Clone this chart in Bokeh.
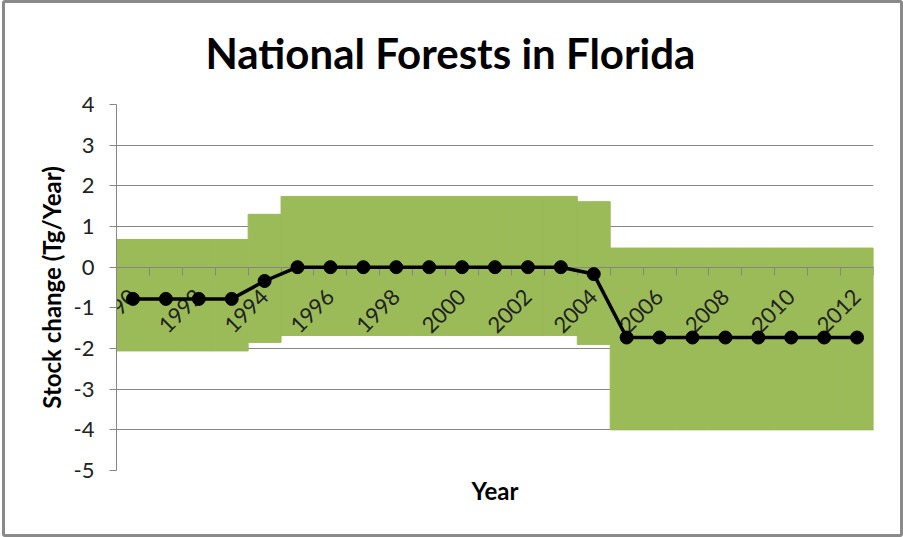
import math
from bokeh.plotting import figure
from bokeh.models import Range1d, LinearAxis, FixedTicker, ColumnDataSource, InlineStyleSheet
from bokeh.embed import file_html
from bokeh.resources import INLINE

# ---- data ----
years = list(range(1990, 2013))
stock_change = [-0.78, -0.78, -0.78, -0.78, -0.34,
                0, 0, 0, 0, 0, 0, 0, 0, 0,
                -0.17,
                -1.73, -1.73, -1.73, -1.73, -1.73, -1.73, -1.73, -1.73]
range_low = [-2.06, -2.06, -2.06, -2.06, -1.85,
             -1.68, -1.68, -1.68, -1.68, -1.68, -1.68, -1.68, -1.68, -1.68,
             -1.90,
             -4.0, -4.0, -4.0, -4.0, -4.0, -4.0, -4.0, -4.0]
range_high = [0.68, 0.68, 0.68, 0.68, 1.30,
              1.74, 1.74, 1.74, 1.74, 1.74, 1.74, 1.74, 1.74, 1.74,
              1.61,
              0.47, 0.47, 0.47, 0.47, 0.47, 0.47, 0.47, 0.47]
x_tick_years = years[::2]
x_tick_labels = [str(y) for y in x_tick_years]
y_ticks = list(range(-5, 5))
y_tick_labels = ["-5", "-4", "-3", "-2", "-1", "0", "1", "2", "3", "4"]

GRAY = "#868686"
GREEN = "#9BBB59"
FONT = "Lato"

src = ColumnDataSource(dict(year=years, val=stock_change, low=range_low, high=range_high))

p = figure(width=903, height=537,
           x_range=Range1d(years[0] - 0.5, years[-1] + 0.5),
           y_range=Range1d(-5, 4),
           x_axis_type=None,
           output_backend="svg", toolbar_location=None,
           min_border_left=116, min_border_right=30,
           min_border_top=104, min_border_bottom=67,
           background_fill_color="white", border_fill_color="white")
p.outline_line_color = None

# outer chart border, drawn by CSS over the page (does not affect the layout)
p.stylesheets = [InlineStyleSheet(css="""
:host::after {
  content: "";
  position: absolute;
  left: 2px; top: 0px;
  width: 901px; height: 537px;
  box-sizing: border-box;
  border: 3px solid #8a8a8a;
  border-radius: 3px;
  pointer-events: none;
  z-index: 1000;
}
""")]

# title
p.title.text = "National Forests in Florida"
p.title.text_font = FONT
p.title.text_font_style = "bold"
p.title.text_font_size = "42px"
p.title.text_color = "black"
p.title.align = "left"
p.title.offset = 89
p.title.vertical_align = "top"
p.title.text_baseline = "top"
p.title.standoff = 50

# y axis
yaxis = p.yaxis[0]
yaxis.ticker = FixedTicker(ticks=y_ticks)
yaxis.major_label_overrides = {t: s for t, s in zip(y_ticks, y_tick_labels)}
yaxis.axis_line_color = GRAY
yaxis.major_tick_line_color = GRAY
yaxis.major_tick_in = 0
yaxis.major_tick_out = 7
yaxis.minor_tick_line_color = None
yaxis.major_label_text_font = FONT
yaxis.major_label_text_font_size = "22px"
yaxis.major_label_text_color = "#222222"
yaxis.major_label_standoff = 15
yaxis.axis_label = "Stock change (Tg/Year)"
yaxis.axis_label_text_font = FONT
yaxis.axis_label_text_font_style = "bold"
yaxis.axis_label_text_font_size = "24px"
yaxis.axis_label_text_color = "black"
yaxis.axis_label_standoff = 5

p.ygrid.ticker = FixedTicker(ticks=y_ticks)
p.ygrid.grid_line_color = GRAY
p.ygrid.grid_line_width = 1

# x axis crossing at y = 0
boundaries = [y - 0.5 for y in years] + [years[-1] + 0.5]
xaxis = LinearAxis(fixed_location=0,
                   ticker=FixedTicker(ticks=x_tick_years, minor_ticks=boundaries))
xaxis.major_label_overrides = {y: s for y, s in zip(x_tick_years, x_tick_labels)}
xaxis.major_label_orientation = math.pi / 4
xaxis.major_tick_in = 0
xaxis.major_tick_out = 0
xaxis.major_tick_line_color = None
xaxis.minor_tick_in = 0
xaxis.minor_tick_out = 8
xaxis.minor_tick_line_color = GRAY
xaxis.axis_line_color = GRAY
xaxis.major_label_text_font = FONT
xaxis.major_label_text_font_size = "22px"
xaxis.major_label_text_color = "#222222"
xaxis.major_label_standoff = 18
p.add_layout(xaxis, "below")

# axis title "Year" below the plot area
year_axis = LinearAxis(ticker=FixedTicker(ticks=[]), axis_label="Year")
year_axis.axis_line_color = None
year_axis.major_tick_line_color = None
year_axis.minor_tick_line_color = None
year_axis.major_label_text_font_size = "0px"
year_axis.axis_label_text_font = FONT
year_axis.axis_label_text_font_style = "bold"
year_axis.axis_label_text_font_size = "24px"
year_axis.axis_label_text_color = "black"
year_axis.axis_label_standoff = 5
p.add_layout(year_axis, "below")

# uncertainty range bars
p.vbar(x="year", bottom="low", top="high", width=1.0, source=src,
       fill_color=GREEN, line_color=GREEN, line_width=1)

# mean line with markers (above the axis labels)
p.line(x="year", y="val", source=src, line_color="black", line_width=3.5, level="overlay")
p.scatter(x="year", y="val", source=src, size=13, fill_color="black",
          line_color="black", level="overlay")

open("out.html", "w").write(file_html(p, INLINE))
